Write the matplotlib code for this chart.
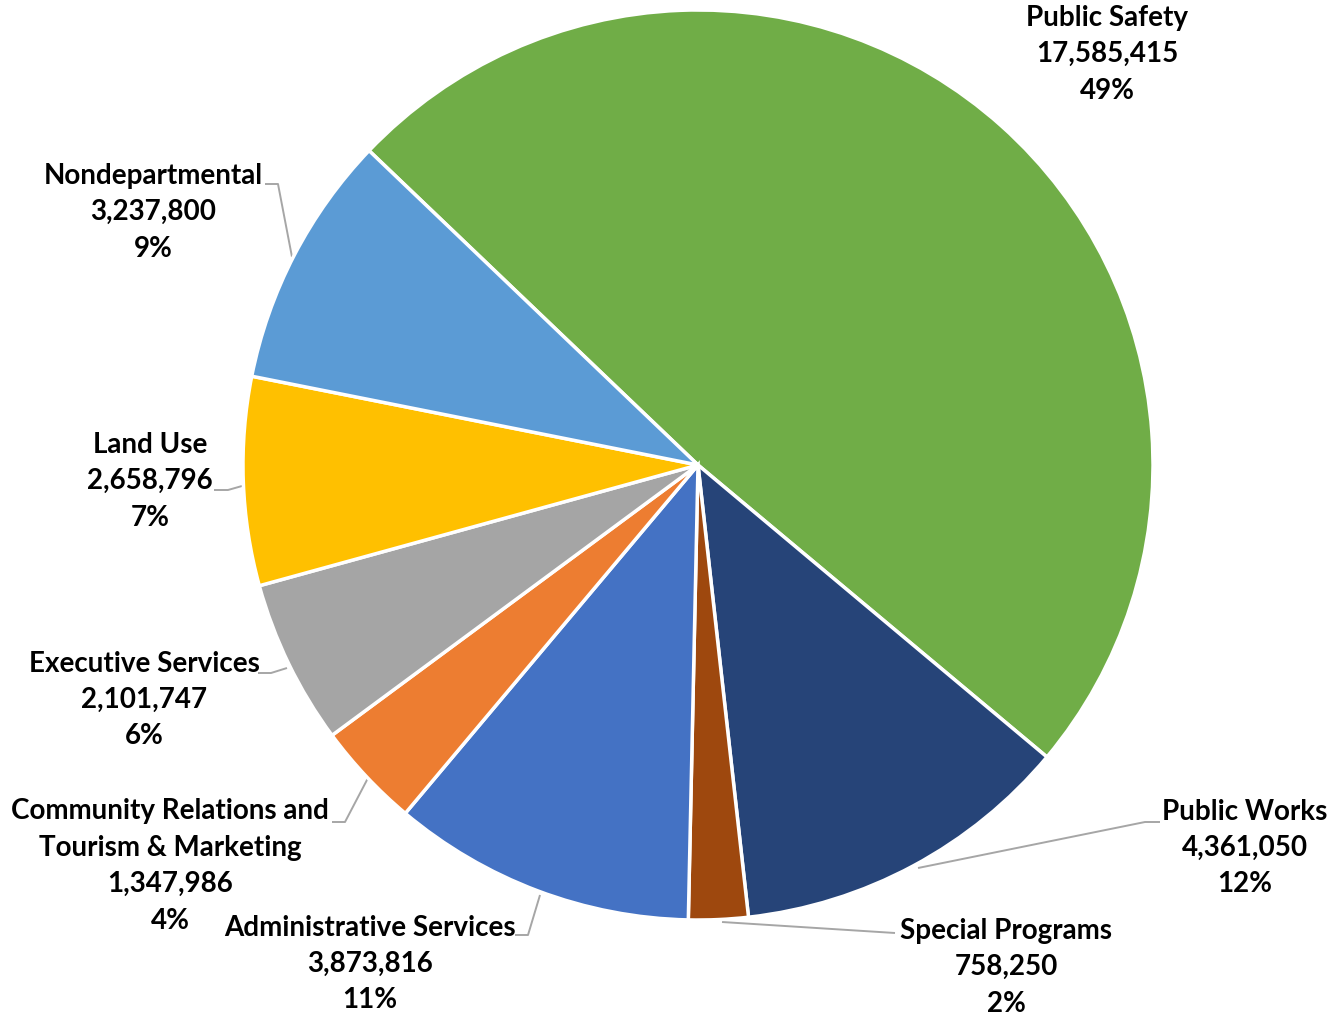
import matplotlib
matplotlib.use("Agg")
import matplotlib.pyplot as plt

W, H = 1329, 1015

# budget by department, clockwise from the top-left
departments = [
    "Public Safety",
    "Public Works",
    "Special Programs",
    "Administrative Services",
    "Community Relations and\nTourism & Marketing",
    "Executive Services",
    "Land Use",
    "Nondepartmental",
]
amounts = [17585415, 4361050, 758250, 3873816, 1347986, 2101747, 2658796, 3237800]
colors = ["#70AD47", "#264478", "#9E480E", "#4472C4", "#ED7D31", "#A5A5A5", "#FFC000", "#5B9BD5"]

# label block centres, pixel coords from top-left
label_pos = [(1107, 54), (1245, 848), (1006, 967), (370, 964),
             (170, 866), (144, 700), (150, 481), (153, 212)]
# leader lines (pixel coords), None = no leader
leaders = [
    None,
    [(1160, 822), (1145, 822), (918, 868)],
    [(895, 933), (722, 922)],
    [(515, 935), (528, 935), (540, 895)],
    [(332, 822), (345, 822), (368, 778)],
    [(258, 673), (271, 673), (287, 668)],
    [(214, 490), (228, 490), (242, 486)],
    [(265, 184), (278, 184), (292, 257)],
]

FONT = ["Lato", "DejaVu Sans"]


def flip(pts):
    return [x for x, _ in pts], [H - y for _, y in pts]


fig = plt.figure(figsize=(W / 100, H / 100), dpi=100)
ax = fig.add_axes([0, 0, 1, 1])
ax.pie(amounts, colors=colors, startangle=136.3, counterclock=False,
       center=(698, H - 465), radius=455,
       wedgeprops=dict(edgecolor="white", linewidth=2.5))
ax.set_xlim(0, W)
ax.set_ylim(0, H)
ax.set_aspect("equal")
ax.axis("off")

total = sum(amounts)
for name, amt, (lx, ly), lead in zip(departments, amounts, label_pos, leaders):
    if lead:
        xs, ys = flip(lead)
        ax.plot(xs, ys, color="#A6A6A6", lw=1.4, solid_capstyle="butt", zorder=0.5)
    txt = f"{name}\n{amt:,.0f}\n{amt / total * 100:.0f}%"
    ax.text(lx, H - ly, txt, ha="center", va="center", multialignment="center",
            fontsize=20, fontweight="bold", family=FONT, linespacing=1.5, color="#000000")

fig.savefig("out.png", dpi=100)
